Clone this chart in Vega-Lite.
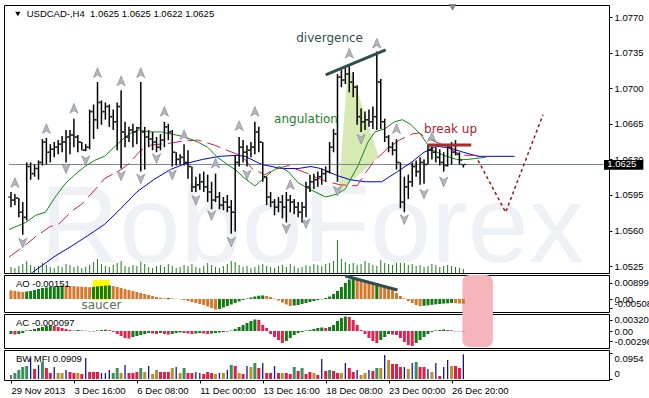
{
"$schema": "https://vega.github.io/schema/vega-lite/v6.json",
"background": "#ffffff",
"padding": {"left": 3, "top": 3, "right": 0, "bottom": 0},
"spacing": 2,
"bounds": "flush",
"resolve": {"scale": {"color": "independent", "shape": "independent"}},
"config": {
  "view": {"stroke": "#000000", "strokeWidth": 1},
  "axis": {"domain": false, "grid": false, "labelFont": "Liberation Sans", "labelFontSize": 9.5, "labelColor": "#000000", "tickColor": "#000000", "tickSize": 3, "labelPadding": 2, "labelOverlap": false, "labelFlush": false, "zindex": 0}
},
"datasets": {
"bars": [
{"i":0,"o":1.0593,"h":1.0598,"l":1.0583,"c":1.0590,"v":600,"ao":0.00468,"aoc":"o","ac":-0.00087,"acc":"g","mfi":0.0147,"mfic":"b"},
{"i":1,"o":1.0590,"h":1.0596,"l":1.0585,"c":1.0592,"v":500,"ao":0.0044,"aoc":"o","ac":-0.00102,"acc":"r","mfi":0.0221,"mfic":"g"},
{"i":2,"o":1.0592,"h":1.0592,"l":1.0573,"c":1.0578,"v":700,"ao":0.00413,"aoc":"o","ac":-0.00087,"acc":"g","mfi":0.0331,"mfic":"g"},
{"i":3,"o":1.0578,"h":1.0588,"l":1.0556,"c":1.0573,"v":900,"ao":0.00385,"aoc":"o","ac":-0.00058,"acc":"g","mfi":0.0442,"mfic":"g"},
{"i":4,"o":1.0573,"h":1.0627,"l":1.0570,"c":1.0623,"v":1200,"ao":0.00413,"aoc":"g","ac":0.00015,"acc":"g","mfi":0.0478,"mfic":"g"},
{"i":5,"o":1.0623,"h":1.0627,"l":1.0610,"c":1.0616,"v":800,"ao":0.0044,"aoc":"g","ac":0.00029,"acc":"g","mfi":0.0773,"mfic":"b"},
{"i":6,"o":1.0616,"h":1.0625,"l":1.0613,"c":1.0621,"v":600,"ao":0.00495,"aoc":"g","ac":0.00058,"acc":"g","mfi":0.0368,"mfic":"r"},
{"i":7,"o":1.0621,"h":1.0629,"l":1.0610,"c":1.0627,"v":700,"ao":0.0055,"aoc":"g","ac":0.00087,"acc":"g","mfi":0.0515,"mfic":"b"},
{"i":8,"o":1.0627,"h":1.0650,"l":1.0624,"c":1.0647,"v":1000,"ao":0.00605,"aoc":"g","ac":0.00116,"acc":"g","mfi":0.0626,"mfic":"g"},
{"i":9,"o":1.0647,"h":1.0651,"l":1.0625,"c":1.0637,"v":800,"ao":0.00633,"aoc":"g","ac":0.00145,"acc":"g","mfi":0.0405,"mfic":"r"},
{"i":10,"o":1.0637,"h":1.0645,"l":1.0627,"c":1.0640,"v":600,"ao":0.0066,"aoc":"g","ac":0.0016,"acc":"g","mfi":0.0221,"mfic":"r"},
{"i":11,"o":1.0640,"h":1.0647,"l":1.0632,"c":1.0642,"v":500,"ao":0.00688,"aoc":"g","ac":0.00145,"acc":"r","mfi":0.0442,"mfic":"b"},
{"i":12,"o":1.0642,"h":1.0649,"l":1.0635,"c":1.0645,"v":700,"ao":0.00715,"aoc":"g","ac":0.00116,"acc":"r","mfi":0.0221,"mfic":"f"},
{"i":13,"o":1.0645,"h":1.0653,"l":1.0637,"c":1.0647,"v":600,"ao":0.00743,"aoc":"g","ac":0.00087,"acc":"r","mfi":0.0221,"mfic":"f"},
{"i":14,"o":1.0647,"h":1.0659,"l":1.0627,"c":1.0652,"v":900,"ao":0.00732,"aoc":"o","ac":0.00058,"acc":"r","mfi":0.0331,"mfic":"b"},
{"i":15,"o":1.0652,"h":1.0659,"l":1.0635,"c":1.0654,"v":800,"ao":0.00715,"aoc":"o","ac":0.00029,"acc":"r","mfi":0.0258,"mfic":"r"},
{"i":16,"o":1.0654,"h":1.0670,"l":1.0642,"c":1.0652,"v":600,"ao":0.00704,"aoc":"o","ac":0.00015,"acc":"r","mfi":0.0221,"mfic":"r"},
{"i":17,"o":1.0652,"h":1.0654,"l":1.0637,"c":1.0647,"v":700,"ao":0.00688,"aoc":"o","ac":0.00029,"acc":"g","mfi":0.0221,"mfic":"f"},
{"i":18,"o":1.0647,"h":1.0647,"l":1.0639,"c":1.0639,"v":500,"ao":0.00677,"aoc":"o","ac":0.00015,"acc":"r","mfi":0.0184,"mfic":"r"},
{"i":19,"o":1.0639,"h":1.0645,"l":1.0638,"c":1.0642,"v":600,"ao":0.0066,"aoc":"o","ac":0.00009,"acc":"r","mfi":0.0773,"mfic":"b"},
{"i":20,"o":1.0642,"h":1.0679,"l":1.0640,"c":1.0677,"v":800,"ao":0.00649,"aoc":"o","ac":-0.00009,"acc":"r","mfi":0.0258,"mfic":"r"},
{"i":21,"o":1.0677,"h":1.0684,"l":1.0650,"c":1.0669,"v":1100,"ao":0.00671,"aoc":"g","ac":-0.00015,"acc":"r","mfi":0.0258,"mfic":"r"},
{"i":22,"o":1.0669,"h":1.0706,"l":1.0660,"c":1.0686,"v":1400,"ao":0.00693,"aoc":"g","ac":0.00015,"acc":"g","mfi":0.0258,"mfic":"r"},
{"i":23,"o":1.0686,"h":1.0688,"l":1.0664,"c":1.0677,"v":900,"ao":0.00715,"aoc":"g","ac":0.00029,"acc":"g","mfi":0.0221,"mfic":"b"},
{"i":24,"o":1.0677,"h":1.0686,"l":1.0669,"c":1.0682,"v":700,"ao":0.00732,"aoc":"g","ac":0.00038,"acc":"g","mfi":0.0221,"mfic":"b"},
{"i":25,"o":1.0682,"h":1.0684,"l":1.0662,"c":1.0672,"v":600,"ao":0.00748,"aoc":"g","ac":0.00023,"acc":"r","mfi":0.0331,"mfic":"b"},
{"i":26,"o":1.0672,"h":1.0679,"l":1.0659,"c":1.0667,"v":800,"ao":0.00715,"aoc":"o","ac":-0.00029,"acc":"r","mfi":0.0221,"mfic":"g"},
{"i":27,"o":1.0667,"h":1.0686,"l":1.0639,"c":1.0682,"v":1000,"ao":0.0066,"aoc":"o","ac":-0.00087,"acc":"r","mfi":0.0405,"mfic":"g"},
{"i":28,"o":1.0682,"h":1.0698,"l":1.0621,"c":1.0657,"v":1200,"ao":0.00605,"aoc":"o","ac":-0.00145,"acc":"r","mfi":0.0221,"mfic":"f"},
{"i":29,"o":1.0657,"h":1.0667,"l":1.0642,"c":1.0652,"v":700,"ao":0.0055,"aoc":"o","ac":-0.00203,"acc":"r","mfi":0.0515,"mfic":"b"},
{"i":30,"o":1.0652,"h":1.0662,"l":1.0647,"c":1.0659,"v":600,"ao":0.00495,"aoc":"o","ac":-0.00218,"acc":"r","mfi":0.0221,"mfic":"r"},
{"i":31,"o":1.0659,"h":1.0665,"l":1.0642,"c":1.0657,"v":800,"ao":0.0044,"aoc":"o","ac":-0.00174,"acc":"g","mfi":0.0221,"mfic":"r"},
{"i":32,"o":1.0657,"h":1.0662,"l":1.0645,"c":1.0661,"v":700,"ao":0.00385,"aoc":"o","ac":-0.00145,"acc":"g","mfi":0.0258,"mfic":"r"},
{"i":33,"o":1.0661,"h":1.0706,"l":1.0618,"c":1.0657,"v":1700,"ao":0.0033,"aoc":"o","ac":-0.00116,"acc":"g","mfi":0.0405,"mfic":"g"},
{"i":34,"o":1.0657,"h":1.0662,"l":1.0620,"c":1.0652,"v":900,"ao":0.00275,"aoc":"o","ac":-0.00087,"acc":"g","mfi":0.0258,"mfic":"f"},
{"i":35,"o":1.0652,"h":1.0659,"l":1.0642,"c":1.0650,"v":600,"ao":0.0022,"aoc":"o","ac":-0.00058,"acc":"g","mfi":0.0478,"mfic":"b"},
{"i":36,"o":1.0650,"h":1.0657,"l":1.0639,"c":1.0647,"v":500,"ao":0.00165,"aoc":"o","ac":-0.00073,"acc":"r","mfi":0.0184,"mfic":"f"},
{"i":37,"o":1.0647,"h":1.0652,"l":1.0637,"c":1.0642,"v":700,"ao":0.0011,"aoc":"o","ac":-0.00087,"acc":"r","mfi":0.0331,"mfic":"f"},
{"i":38,"o":1.0642,"h":1.0655,"l":1.0639,"c":1.0649,"v":800,"ao":0.00072,"aoc":"o","ac":-0.00058,"acc":"g","mfi":0.0258,"mfic":"r"},
{"i":39,"o":1.0649,"h":1.0667,"l":1.0642,"c":1.0662,"v":600,"ao":0.00044,"aoc":"o","ac":-0.00087,"acc":"r","mfi":0.0258,"mfic":"r"},
{"i":40,"o":1.0662,"h":1.0665,"l":1.0649,"c":1.0657,"v":900,"ao":0.00055,"aoc":"g","ac":-0.00102,"acc":"r","mfi":0.0258,"mfic":"r"},
{"i":41,"o":1.0657,"h":1.0659,"l":1.0623,"c":1.0637,"v":700,"ao":0.00033,"aoc":"o","ac":-0.00087,"acc":"g","mfi":0.0405,"mfic":"f"},
{"i":42,"o":1.0637,"h":1.0637,"l":1.0624,"c":1.0630,"v":500,"ao":0.00017,"aoc":"o","ac":-0.00058,"acc":"g","mfi":0.0442,"mfic":"b"},
{"i":43,"o":1.0630,"h":1.0635,"l":1.0625,"c":1.0632,"v":600,"ao":-0.00017,"aoc":"o","ac":-0.00044,"acc":"g","mfi":0.0221,"mfic":"f"},
{"i":44,"o":1.0632,"h":1.0645,"l":1.0624,"c":1.0627,"v":800,"ao":-0.00055,"aoc":"o","ac":-0.00058,"acc":"r","mfi":0.0405,"mfic":"g"},
{"i":45,"o":1.0627,"h":1.0639,"l":1.0611,"c":1.0623,"v":700,"ao":-0.0011,"aoc":"o","ac":-0.00073,"acc":"r","mfi":0.0221,"mfic":"r"},
{"i":46,"o":1.0623,"h":1.0623,"l":1.0598,"c":1.0603,"v":900,"ao":-0.00165,"aoc":"o","ac":-0.00087,"acc":"r","mfi":0.0221,"mfic":"r"},
{"i":47,"o":1.0603,"h":1.0613,"l":1.0598,"c":1.0605,"v":600,"ao":-0.0022,"aoc":"o","ac":-0.00073,"acc":"g","mfi":0.0258,"mfic":"b"},
{"i":48,"o":1.0605,"h":1.0616,"l":1.0600,"c":1.0608,"v":500,"ao":-0.00275,"aoc":"o","ac":-0.00058,"acc":"g","mfi":0.0221,"mfic":"b"},
{"i":49,"o":1.0608,"h":1.0618,"l":1.0598,"c":1.0603,"v":700,"ao":-0.0033,"aoc":"o","ac":-0.00073,"acc":"r","mfi":0.0184,"mfic":"r"},
{"i":50,"o":1.0603,"h":1.0615,"l":1.0588,"c":1.0598,"v":1000,"ao":-0.00413,"aoc":"o","ac":-0.00087,"acc":"r","mfi":0.0258,"mfic":"r"},
{"i":51,"o":1.0598,"h":1.0608,"l":1.0581,"c":1.0590,"v":800,"ao":-0.00495,"aoc":"o","ac":-0.00073,"acc":"g","mfi":0.0221,"mfic":"r"},
{"i":52,"o":1.0590,"h":1.0616,"l":1.0588,"c":1.0593,"v":600,"ao":-0.00578,"aoc":"o","ac":-0.00058,"acc":"g","mfi":0.0184,"mfic":"f"},
{"i":53,"o":1.0593,"h":1.0598,"l":1.0581,"c":1.0585,"v":500,"ao":-0.0055,"aoc":"g","ac":-0.00044,"acc":"g","mfi":0.0221,"mfic":"b"},
{"i":54,"o":1.0585,"h":1.0593,"l":1.0580,"c":1.0588,"v":700,"ao":-0.00468,"aoc":"g","ac":-0.00029,"acc":"g","mfi":0.0221,"mfic":"f"},
{"i":55,"o":1.0588,"h":1.0595,"l":1.0578,"c":1.0583,"v":900,"ao":-0.00385,"aoc":"g","ac":-0.00015,"acc":"g","mfi":0.0331,"mfic":"b"},
{"i":56,"o":1.0583,"h":1.0590,"l":1.0557,"c":1.0578,"v":1200,"ao":-0.00303,"aoc":"g","ac":0.00015,"acc":"g","mfi":0.0515,"mfic":"g"},
{"i":57,"o":1.0578,"h":1.0634,"l":1.0559,"c":1.0627,"v":1100,"ao":-0.0022,"aoc":"g","ac":0.00058,"acc":"g","mfi":0.0478,"mfic":"r"},
{"i":58,"o":1.0627,"h":1.0652,"l":1.0623,"c":1.0642,"v":800,"ao":-0.00138,"aoc":"g","ac":0.00116,"acc":"g","mfi":0.0221,"mfic":"f"},
{"i":59,"o":1.0642,"h":1.0649,"l":1.0627,"c":1.0637,"v":600,"ao":-0.00055,"aoc":"g","ac":0.00174,"acc":"g","mfi":0.0184,"mfic":"r"},
{"i":60,"o":1.0637,"h":1.0644,"l":1.0623,"c":1.0639,"v":700,"ao":0.00028,"aoc":"g","ac":0.00232,"acc":"g","mfi":0.0478,"mfic":"b"},
{"i":61,"o":1.0639,"h":1.0647,"l":1.0632,"c":1.0642,"v":500,"ao":0.00083,"aoc":"g","ac":0.0029,"acc":"g","mfi":0.0442,"mfic":"f"},
{"i":62,"o":1.0642,"h":1.0667,"l":1.0635,"c":1.0657,"v":600,"ao":0.00138,"aoc":"g","ac":0.00334,"acc":"g","mfi":0.0589,"mfic":"g"},
{"i":63,"o":1.0657,"h":1.0662,"l":1.0637,"c":1.0647,"v":800,"ao":0.00176,"aoc":"g","ac":0.00319,"acc":"r","mfi":0.0405,"mfic":"r"},
{"i":64,"o":1.0647,"h":1.0647,"l":1.0608,"c":1.0613,"v":900,"ao":0.00198,"aoc":"g","ac":0.00174,"acc":"r","mfi":0.0589,"mfic":"b"},
{"i":65,"o":1.0613,"h":1.0613,"l":1.0585,"c":1.0593,"v":700,"ao":0.00165,"aoc":"o","ac":0.00087,"acc":"r","mfi":0.0221,"mfic":"r"},
{"i":66,"o":1.0593,"h":1.0598,"l":1.0583,"c":1.0588,"v":600,"ao":0.0011,"aoc":"o","ac":-0.00087,"acc":"r","mfi":0.0221,"mfic":"r"},
{"i":67,"o":1.0588,"h":1.0591,"l":1.0575,"c":1.0583,"v":500,"ao":0.00028,"aoc":"o","ac":-0.00174,"acc":"r","mfi":0.0478,"mfic":"b"},
{"i":68,"o":1.0583,"h":1.0593,"l":1.0578,"c":1.0588,"v":700,"ao":-0.00083,"aoc":"o","ac":-0.00261,"acc":"r","mfi":0.0221,"mfic":"r"},
{"i":69,"o":1.0588,"h":1.0595,"l":1.0572,"c":1.0583,"v":800,"ao":-0.00193,"aoc":"o","ac":-0.00348,"acc":"r","mfi":0.0221,"mfic":"f"},
{"i":70,"o":1.0583,"h":1.0598,"l":1.0568,"c":1.0590,"v":600,"ao":-0.00303,"aoc":"o","ac":-0.0029,"acc":"g","mfi":0.0221,"mfic":"r"},
{"i":71,"o":1.0590,"h":1.0595,"l":1.0578,"c":1.0588,"v":900,"ao":-0.00385,"aoc":"o","ac":-0.00203,"acc":"g","mfi":0.0184,"mfic":"r"},
{"i":72,"o":1.0588,"h":1.0591,"l":1.0576,"c":1.0583,"v":700,"ao":-0.00358,"aoc":"g","ac":-0.00116,"acc":"g","mfi":0.0442,"mfic":"g"},
{"i":73,"o":1.0583,"h":1.0588,"l":1.0573,"c":1.0578,"v":500,"ao":-0.0033,"aoc":"g","ac":-0.00058,"acc":"g","mfi":0.0294,"mfic":"r"},
{"i":74,"o":1.0578,"h":1.0588,"l":1.0568,"c":1.0583,"v":600,"ao":-0.00275,"aoc":"g","ac":-0.00029,"acc":"g","mfi":0.0405,"mfic":"g"},
{"i":75,"o":1.0583,"h":1.0608,"l":1.0573,"c":1.0603,"v":800,"ao":-0.0022,"aoc":"g","ac":0.00015,"acc":"g","mfi":0.0184,"mfic":"r"},
{"i":76,"o":1.0603,"h":1.0615,"l":1.0598,"c":1.0608,"v":700,"ao":-0.00165,"aoc":"g","ac":0.00029,"acc":"g","mfi":0.0258,"mfic":"r"},
{"i":77,"o":1.0608,"h":1.0616,"l":1.0601,"c":1.0610,"v":900,"ao":-0.0011,"aoc":"g","ac":0.00058,"acc":"g","mfi":0.0221,"mfic":"f"},
{"i":78,"o":1.0610,"h":1.0618,"l":1.0603,"c":1.0613,"v":800,"ao":-0.00055,"aoc":"g","ac":0.00087,"acc":"g","mfi":0.0147,"mfic":"r"},
{"i":79,"o":1.0613,"h":1.0621,"l":1.0605,"c":1.0616,"v":700,"ao":-0.00017,"aoc":"g","ac":0.00102,"acc":"g","mfi":0.0736,"mfic":"b"},
{"i":80,"o":1.0616,"h":1.0623,"l":1.0608,"c":1.0618,"v":900,"ao":0.00055,"aoc":"g","ac":0.00087,"acc":"r","mfi":0.0294,"mfic":"r"},
{"i":81,"o":1.0618,"h":1.0647,"l":1.0616,"c":1.0642,"v":1000,"ao":0.00138,"aoc":"g","ac":0.00116,"acc":"g","mfi":0.0331,"mfic":"g"},
{"i":82,"o":1.0642,"h":1.0660,"l":1.0637,"c":1.0655,"v":1200,"ao":0.00275,"aoc":"g","ac":0.00174,"acc":"g","mfi":0.0294,"mfic":"r"},
{"i":83,"o":1.0655,"h":1.0714,"l":1.0608,"c":1.0711,"v":3300,"ao":0.0044,"aoc":"g","ac":0.0029,"acc":"g","mfi":0.0221,"mfic":"r"},
{"i":84,"o":1.0711,"h":1.0718,"l":1.0701,"c":1.0708,"v":1400,"ao":0.0066,"aoc":"g","ac":0.00377,"acc":"g","mfi":0.0221,"mfic":"f"},
{"i":85,"o":1.0708,"h":1.0720,"l":1.0704,"c":1.0714,"v":1100,"ao":0.0088,"aoc":"g","ac":0.00421,"acc":"g","mfi":0.0589,"mfic":"b"},
{"i":86,"o":1.0714,"h":1.0723,"l":1.0696,"c":1.0706,"v":900,"ao":0.01073,"aoc":"g","ac":0.00406,"acc":"r","mfi":0.0405,"mfic":"r"},
{"i":87,"o":1.0706,"h":1.0716,"l":1.0691,"c":1.0701,"v":1000,"ao":0.0121,"aoc":"g","ac":0.00319,"acc":"r","mfi":0.0258,"mfic":"r"},
{"i":88,"o":1.0701,"h":1.0703,"l":1.0664,"c":1.0672,"v":800,"ao":0.01155,"aoc":"o","ac":0.00174,"acc":"r","mfi":0.0331,"mfic":"b"},
{"i":89,"o":1.0672,"h":1.0680,"l":1.0657,"c":1.0667,"v":900,"ao":0.01073,"aoc":"o","ac":0.00029,"acc":"r","mfi":0.0147,"mfic":"f"},
{"i":90,"o":1.0667,"h":1.0677,"l":1.0659,"c":1.0669,"v":1200,"ao":0.0099,"aoc":"o","ac":-0.00087,"acc":"r","mfi":0.0221,"mfic":"f"},
{"i":91,"o":1.0669,"h":1.0679,"l":1.0662,"c":1.0667,"v":1000,"ao":0.00908,"aoc":"o","ac":-0.00203,"acc":"r","mfi":0.0331,"mfic":"b"},
{"i":92,"o":1.0667,"h":1.0682,"l":1.0660,"c":1.0672,"v":800,"ao":0.00853,"aoc":"o","ac":-0.0029,"acc":"r","mfi":0.0294,"mfic":"r"},
{"i":93,"o":1.0672,"h":1.0736,"l":1.0659,"c":1.0706,"v":700,"ao":0.0088,"aoc":"g","ac":-0.00348,"acc":"r","mfi":0.0405,"mfic":"g"},
{"i":94,"o":1.0706,"h":1.0709,"l":1.0660,"c":1.0667,"v":1300,"ao":0.0077,"aoc":"o","ac":-0.00261,"acc":"g","mfi":0.0405,"mfic":"f"},
{"i":95,"o":1.0667,"h":1.0670,"l":1.0647,"c":1.0652,"v":1000,"ao":0.00688,"aoc":"o","ac":-0.00174,"acc":"g","mfi":0.0883,"mfic":"b"},
{"i":96,"o":1.0652,"h":1.0654,"l":1.0637,"c":1.0642,"v":900,"ao":0.00605,"aoc":"o","ac":-0.00087,"acc":"g","mfi":0.0699,"mfic":"f"},
{"i":97,"o":1.0642,"h":1.0647,"l":1.0634,"c":1.0639,"v":800,"ao":0.00495,"aoc":"o","ac":-0.00102,"acc":"r","mfi":0.0552,"mfic":"r"},
{"i":98,"o":1.0639,"h":1.0650,"l":1.0620,"c":1.0627,"v":1200,"ao":0.0033,"aoc":"o","ac":-0.00116,"acc":"r","mfi":0.0552,"mfic":"r"},
{"i":99,"o":1.0627,"h":1.0627,"l":1.0582,"c":1.0588,"v":1400,"ao":0.00165,"aoc":"o","ac":-0.00203,"acc":"r","mfi":0.0442,"mfic":"r"},
{"i":100,"o":1.0588,"h":1.0613,"l":1.0578,"c":1.0603,"v":1000,"ao":0.00028,"aoc":"o","ac":-0.00319,"acc":"r","mfi":0.0442,"mfic":"b"},
{"i":101,"o":1.0603,"h":1.0615,"l":1.0591,"c":1.0608,"v":800,"ao":-0.0011,"aoc":"o","ac":-0.00406,"acc":"r","mfi":0.0368,"mfic":"f"},
{"i":102,"o":1.0608,"h":1.0627,"l":1.0603,"c":1.0623,"v":900,"ao":-0.0022,"aoc":"o","ac":-0.00435,"acc":"r","mfi":0.0589,"mfic":"b"},
{"i":103,"o":1.0623,"h":1.0629,"l":1.0613,"c":1.0618,"v":700,"ao":-0.0033,"aoc":"o","ac":-0.00348,"acc":"g","mfi":0.0626,"mfic":"g"},
{"i":104,"o":1.0618,"h":1.0632,"l":1.0605,"c":1.0627,"v":800,"ao":-0.00396,"aoc":"o","ac":-0.00261,"acc":"g","mfi":0.0442,"mfic":"r"},
{"i":105,"o":1.0627,"h":1.0630,"l":1.0606,"c":1.0625,"v":600,"ao":-0.00374,"aoc":"g","ac":-0.00174,"acc":"g","mfi":0.0442,"mfic":"r"},
{"i":106,"o":1.0625,"h":1.0644,"l":1.0625,"c":1.0639,"v":700,"ao":-0.00347,"aoc":"g","ac":-0.00087,"acc":"g","mfi":0.0368,"mfic":"b"},
{"i":107,"o":1.0639,"h":1.0645,"l":1.0630,"c":1.0637,"v":900,"ao":-0.00319,"aoc":"g","ac":-0.00029,"acc":"g","mfi":0.0258,"mfic":"f"},
{"i":108,"o":1.0637,"h":1.0642,"l":1.0627,"c":1.0632,"v":800,"ao":-0.00292,"aoc":"g","ac":0.00015,"acc":"g","mfi":0.0589,"mfic":"b"},
{"i":109,"o":1.0632,"h":1.0640,"l":1.0624,"c":1.0627,"v":600,"ao":-0.00275,"aoc":"g","ac":0.00029,"acc":"g","mfi":0.011,"mfic":"r"},
{"i":110,"o":1.0627,"h":1.0637,"l":1.0618,"c":1.0624,"v":700,"ao":-0.00253,"aoc":"g","ac":0.00044,"acc":"g","mfi":0.0442,"mfic":"b"},
{"i":111,"o":1.0624,"h":1.0645,"l":1.0623,"c":1.0642,"v":800,"ao":-0.00237,"aoc":"g","ac":0.00029,"acc":"r","mfi":0.0699,"mfic":"b"},
{"i":112,"o":1.0642,"h":1.0647,"l":1.0625,"c":1.0637,"v":700,"ao":-0.0022,"aoc":"g","ac":0.0002,"acc":"r","mfi":0.0478,"mfic":"f"},
{"i":113,"o":1.0637,"h":1.0649,"l":1.0634,"c":1.0635,"v":600,"ao":-0.00231,"aoc":"o","ac":-0.0001,"acc":"r","mfi":0.0478,"mfic":"r"},
{"i":114,"o":1.0635,"h":1.0637,"l":1.0625,"c":1.0629,"v":500,"ao":-0.00248,"aoc":"o","ac":-0.0001,"acc":"r","mfi":0.0405,"mfic":"r"},
{"i":115,"o":1.0625,"h":1.0625,"l":1.0622,"c":1.0625,"v":400,"ao":-0.00259,"aoc":"o","ac":-0.000097,"acc":"r","mfi":0.0909,"mfic":"b"}
],
"alli": [
{"line":"jaw","i":3.75,"p":1.0513},{"line":"jaw","i":5.5,"p":1.0519},{"line":"jaw","i":11.25,"p":1.0535},{"line":"jaw","i":15.5,"p":1.0545},{"line":"jaw","i":19.5,"p":1.0555},{"line":"jaw","i":23.75,"p":1.0566},{"line":"jaw","i":28,"p":1.0582},{"line":"jaw","i":32,"p":1.0598},{"line":"jaw","i":36.25,"p":1.0610},{"line":"jaw","i":40.5,"p":1.0620},{"line":"jaw","i":44.5,"p":1.0626},{"line":"jaw","i":48.75,"p":1.0630},{"line":"jaw","i":53,"p":1.0633},{"line":"jaw","i":57.5,"p":1.0634},{"line":"jaw","i":59.5,"p":1.0633},{"line":"jaw","i":63.75,"p":1.0625},{"line":"jaw","i":68.75,"p":1.0621},{"line":"jaw","i":73,"p":1.0621},{"line":"jaw","i":76.25,"p":1.0623},{"line":"jaw","i":78.75,"p":1.0621},{"line":"jaw","i":83,"p":1.0614},{"line":"jaw","i":86.25,"p":1.0610},{"line":"jaw","i":90,"p":1.0608},{"line":"jaw","i":94.25,"p":1.0608},{"line":"jaw","i":98.25,"p":1.0618},{"line":"jaw","i":101.75,"p":1.0627},{"line":"jaw","i":105,"p":1.0637},{"line":"jaw","i":108.25,"p":1.0643},{"line":"jaw","i":111.75,"p":1.0641},{"line":"jaw","i":115,"p":1.0637},{"line":"jaw","i":118.75,"p":1.0633},{"line":"jaw","i":123,"p":1.0633},{"line":"jaw","i":128,"p":1.0633},
{"line":"teeth","i":-0.5,"p":1.0534},{"line":"teeth","i":3.75,"p":1.0546},{"line":"teeth","i":6.25,"p":1.0554},{"line":"teeth","i":10,"p":1.0564},{"line":"teeth","i":12,"p":1.0566},{"line":"teeth","i":15.75,"p":1.0580},{"line":"teeth","i":18,"p":1.0586},{"line":"teeth","i":22,"p":1.0603},{"line":"teeth","i":23.75,"p":1.0611},{"line":"teeth","i":28,"p":1.0620},{"line":"teeth","i":30,"p":1.0626},{"line":"teeth","i":33,"p":1.0639},{"line":"teeth","i":35.5,"p":1.0644},{"line":"teeth","i":40.5,"p":1.0646},{"line":"teeth","i":43.75,"p":1.0648},{"line":"teeth","i":47.5,"p":1.0649},{"line":"teeth","i":51.75,"p":1.0644},{"line":"teeth","i":54.25,"p":1.0640},{"line":"teeth","i":57.5,"p":1.0635},{"line":"teeth","i":59.5,"p":1.0630},{"line":"teeth","i":61.25,"p":1.0621},{"line":"teeth","i":64.5,"p":1.0615},{"line":"teeth","i":67,"p":1.0620},{"line":"teeth","i":70.5,"p":1.0624},{"line":"teeth","i":72,"p":1.0621},{"line":"teeth","i":75.5,"p":1.0616},{"line":"teeth","i":77,"p":1.0613},{"line":"teeth","i":80.5,"p":1.0608},{"line":"teeth","i":83.75,"p":1.0605},{"line":"teeth","i":88,"p":1.0604},{"line":"teeth","i":90,"p":1.0616},{"line":"teeth","i":92,"p":1.0627},{"line":"teeth","i":95.5,"p":1.0640},{"line":"teeth","i":98.75,"p":1.0649},{"line":"teeth","i":102,"p":1.0655},{"line":"teeth","i":103.75,"p":1.0656},{"line":"teeth","i":105.75,"p":1.0651},{"line":"teeth","i":110,"p":1.0644},{"line":"teeth","i":114.5,"p":1.0634},{"line":"teeth","i":118,"p":1.0634},{"line":"teeth","i":120.75,"p":1.0632},
{"line":"lips","i":-0.5,"p":1.0561},{"line":"lips","i":3.75,"p":1.0568},{"line":"lips","i":6.25,"p":1.0575},{"line":"lips","i":8.75,"p":1.0578},{"line":"lips","i":11.25,"p":1.0593},{"line":"lips","i":13.75,"p":1.0606},{"line":"lips","i":16.25,"p":1.0615},{"line":"lips","i":18.75,"p":1.0623},{"line":"lips","i":21.25,"p":1.0629},{"line":"lips","i":23.75,"p":1.0633},{"line":"lips","i":26.25,"p":1.0642},{"line":"lips","i":28.75,"p":1.0651},{"line":"lips","i":30.5,"p":1.0656},{"line":"lips","i":32.5,"p":1.0659},{"line":"lips","i":35,"p":1.0657},{"line":"lips","i":38.25,"p":1.0657},{"line":"lips","i":40.75,"p":1.0655},{"line":"lips","i":44.25,"p":1.0652},{"line":"lips","i":47.5,"p":1.0647},{"line":"lips","i":50,"p":1.0642},{"line":"lips","i":52.5,"p":1.0632},{"line":"lips","i":55,"p":1.0625},{"line":"lips","i":57,"p":1.0620},{"line":"lips","i":59.5,"p":1.0611},{"line":"lips","i":62,"p":1.0604},{"line":"lips","i":64.5,"p":1.0612},{"line":"lips","i":66.25,"p":1.0618},{"line":"lips","i":68.25,"p":1.0623},{"line":"lips","i":70.5,"p":1.0618},{"line":"lips","i":73,"p":1.0607},{"line":"lips","i":76.25,"p":1.0600},{"line":"lips","i":80,"p":1.0593},{"line":"lips","i":83,"p":1.0596},{"line":"lips","i":85,"p":1.0601},{"line":"lips","i":88.25,"p":1.0624},{"line":"lips","i":90.75,"p":1.0647},{"line":"lips","i":92.5,"p":1.0657},{"line":"lips","i":95,"p":1.0660},{"line":"lips","i":97.5,"p":1.0667},{"line":"lips","i":99.5,"p":1.0669},{"line":"lips","i":101.75,"p":1.0664},{"line":"lips","i":104.25,"p":1.0654},{"line":"lips","i":106.75,"p":1.0640},{"line":"lips","i":110,"p":1.0634},{"line":"lips","i":113.25,"p":1.0630},{"line":"lips","i":116.25,"p":1.0630},{"line":"lips","i":120.5,"p":1.0632}
],
"fr": [
{"t":"u","i":1,"p":1.0607},{"t":"u","i":9,"p":1.0660},{"t":"u","i":16,"p":1.0680},{"t":"u","i":22,"p":1.0715},{"t":"u","i":28,"p":1.0707},{"t":"u","i":33,"p":1.0715},{"t":"u","i":39,"p":1.0677},{"t":"u","i":44,"p":1.0654},{"t":"u","i":52,"p":1.0626},{"t":"u","i":58,"p":1.0663},{"t":"u","i":62,"p":1.0677},{"t":"u","i":71,"p":1.0605},{"t":"u","i":86,"p":1.0734},{"t":"u","i":93,"p":1.0744},{"t":"u","i":98,"p":1.0660},{"t":"u","i":107,"p":1.0652},
{"t":"d","i":3,"p":1.0548},{"t":"d","i":14,"p":1.0621},{"t":"d","i":19,"p":1.0629},{"t":"d","i":28,"p":1.0614},{"t":"d","i":33,"p":1.0611},{"t":"d","i":37,"p":1.0631},{"t":"d","i":41,"p":1.0615},{"t":"d","i":47,"p":1.0590},{"t":"d","i":51,"p":1.0575},{"t":"d","i":56,"p":1.0549},{"t":"d","i":60,"p":1.0615},{"t":"d","i":70,"p":1.0562},{"t":"d","i":75,"p":1.0567},{"t":"d","i":83,"p":1.0599},{"t":"d","i":89,"p":1.0650},{"t":"d","i":100,"p":1.0571},{"t":"d","i":105,"p":1.0596},{"t":"d","i":110,"p":1.0608}
]
},
"vconcat": [
{
 "width": 605, "height": 268,
 "encoding": {"x": {"field": "i", "type": "quantitative", "scale": {"domain": [-0.5, 150.75], "nice": false, "zero": false}, "axis": null}},
 "resolve": {"scale": {"y": "independent"}, "axis": {"y": "independent"}},
 "layer": [
  {"data": {"name": "bars"}, "mark": {"type": "bar", "orient": "vertical", "width": 1, "color": "#1d7d1d"},
   "encoding": {"y": {"field": "v", "type": "quantitative", "scale": {"domain": [0, 26800], "nice": false}, "axis": null}, "y2": {"datum": 0}}},
  {"resolve": {"axis": {"y": "independent"}},
   "layer": [
   {"data": {"values": [{"i": 76.5, "p": 1.0529, "t": "RoboForex"}]},
    "mark": {"type": "text", "font": "Liberation Sans", "fontSize": 110, "color": "#eef2f6", "align": "center", "baseline": "alphabetic"},
    "encoding": {"y": {"field": "p", "type": "quantitative", "scale": {"domain": [1.05183, 1.07818], "nice": false, "zero": false}, "axis": null}, "text": {"field": "t", "type": "nominal"}}},
   {"data": {"values": [{"i": 83.25, "t": 1.0598, "b": 1.0598}, {"i": 85.75, "t": 1.0724, "b": 1.0606}, {"i": 93.5, "t": 1.0632, "b": 1.0632}]},
    "mark": {"type": "area", "color": "#d7eab3", "opacity": 1},
    "encoding": {"y": {"field": "t", "type": "quantitative", "scale": {"domain": [1.05183, 1.07818], "nice": false, "zero": false}, "axis": null}, "y2": {"field": "b"}}},
   {"data": {"values": [{"i": -0.5, "i2": 150.75, "p": 1.0625}]},
    "mark": {"type": "rule", "color": "#7c8791", "strokeWidth": 1},
    "encoding": {"x2": {"field": "i2"}, "y": {"field": "p", "type": "quantitative", "scale": {"domain": [1.05183, 1.07818], "nice": false, "zero": false}, "axis": null}}},
   {"data": {"name": "alli"}, "transform": [{"filter": "datum.line == 'jaw'"}],
    "mark": {"type": "line", "color": "#0000dd", "strokeWidth": 1, "clip": true},
    "encoding": {"y": {"field": "p", "type": "quantitative", "scale": {"domain": [1.05183, 1.07818], "nice": false, "zero": false}, "axis": null}}},
   {"data": {"name": "alli"}, "transform": [{"filter": "datum.line == 'teeth'"}],
    "mark": {"type": "line", "color": "#cc1f4a", "strokeWidth": 1, "strokeDash": [14, 6], "clip": true},
    "encoding": {"y": {"field": "p", "type": "quantitative", "scale": {"domain": [1.05183, 1.07818], "nice": false, "zero": false}, "axis": null}}},
   {"data": {"name": "alli"}, "transform": [{"filter": "datum.line == 'lips'"}],
    "mark": {"type": "line", "color": "#118811", "strokeWidth": 1, "clip": true},
    "encoding": {"y": {"field": "p", "type": "quantitative", "scale": {"domain": [1.05183, 1.07818], "nice": false, "zero": false}, "axis": null}}},
   {"data": {"name": "bars"}, "mark": {"type": "rule", "color": "#000000", "strokeWidth": 1.5},
    "encoding": {"y": {"field": "l", "type": "quantitative", "scale": {"domain": [1.05183, 1.07818], "nice": false, "zero": false},
       "axis": {"orient": "right", "values": [1.077, 1.0735, 1.07, 1.0665, 1.063, 1.0595, 1.056, 1.0525], "format": ".4f", "title": null, "zindex": 0}},
     "y2": {"field": "h"}}},
   {"data": {"name": "bars"}, "mark": {"type": "tick", "orient": "horizontal", "color": "#000000", "size": 2, "thickness": 1.5, "xOffset": -1.75},
    "encoding": {"y": {"field": "o", "type": "quantitative", "scale": {"domain": [1.05183, 1.07818], "nice": false, "zero": false}, "axis": null}}},
   {"data": {"name": "bars"}, "mark": {"type": "tick", "orient": "horizontal", "color": "#000000", "size": 2, "thickness": 1.5, "xOffset": 1.75},
    "encoding": {"y": {"field": "c", "type": "quantitative", "scale": {"domain": [1.05183, 1.07818], "nice": false, "zero": false}, "axis": null}}},
   {"data": {"name": "fr"}, "mark": {"type": "point", "filled": true, "size": 105, "fill": "#b3b7bd", "stroke": "#7b8086", "strokeWidth": 0.6, "opacity": 1},
    "encoding": {"y": {"field": "p", "type": "quantitative", "scale": {"domain": [1.05183, 1.07818], "nice": false, "zero": false}, "axis": null},
     "shape": {"field": "t", "type": "nominal", "scale": {"domain": ["u", "d"], "range": ["M0,-1L0.8,0.9L0,0.4L-0.8,0.9Z", "M0,1L0.8,-0.9L0,-0.4L-0.8,-0.9Z"]}, "legend": null}}},
   {"data": {"values": [{"i": 80, "i2": 95.25, "p": 1.0713, "p2": 1.07376}]},
    "mark": {"type": "rule", "color": "#2f4f4f", "strokeWidth": 3},
    "encoding": {"x2": {"field": "i2"}, "y": {"field": "p", "type": "quantitative", "scale": {"domain": [1.05183, 1.07818], "nice": false, "zero": false}, "axis": null}, "y2": {"field": "p2"}}},
   {"data": {"values": [{"i": 106, "i2": 117, "p": 1.06441}]},
    "mark": {"type": "rule", "color": "#aa2b2b", "strokeWidth": 3},
    "encoding": {"x2": {"field": "i2"}, "y": {"field": "p", "type": "quantitative", "scale": {"domain": [1.05183, 1.07818], "nice": false, "zero": false}, "axis": null}}},
   {"data": {"values": [{"i": 118.75, "p": 1.0629}, {"i": 125.75, "p": 1.0578}, {"i": 135.25, "p": 1.0674}]},
    "mark": {"type": "line", "color": "#8b1a1a", "strokeWidth": 1.5, "strokeDash": [3, 3]},
    "encoding": {"y": {"field": "p", "type": "quantitative", "scale": {"domain": [1.05183, 1.07818], "nice": false, "zero": false}, "axis": null}}},
   {"data": {"values": [{"i": 81, "p": 1.0749, "t": "divergence", "k": "a"}, {"i": 75, "p": 1.0670, "t": "angulation", "k": "b"}, {"i": 111.75, "p": 1.0660, "t": "break up", "k": "c"}]},
    "mark": {"type": "text", "font": "DejaVu Sans", "fontSize": 12, "align": "center", "baseline": "middle"},
    "encoding": {"y": {"field": "p", "type": "quantitative", "scale": {"domain": [1.05183, 1.07818], "nice": false, "zero": false}, "axis": null},
     "text": {"field": "t", "type": "nominal"},
     "color": {"field": "k", "type": "nominal", "scale": {"domain": ["a", "b", "c"], "range": ["#2f4f4f", "#22802a", "#a3262e"]}, "legend": null}}},
   {"data": {"values": [{"i": 4, "p": 1.0773, "t": "USDCAD-,H4\u00a0 1.0625 1.0625 1.0622 1.0625"}]},
    "mark": {"type": "text", "font": "Liberation Sans", "fontSize": 9.5, "align": "left", "baseline": "middle", "color": "#000000"},
    "encoding": {"y": {"field": "p", "type": "quantitative", "scale": {"domain": [1.05183, 1.07818], "nice": false, "zero": false}, "axis": null}, "text": {"field": "t", "type": "nominal"}}},
   {"data": {"values": [{"i": 1.75, "p": 1.0773}]},
    "mark": {"type": "point", "shape": "triangle-down", "filled": true, "size": 28, "color": "#000000", "opacity": 1},
    "encoding": {"y": {"field": "p", "type": "quantitative", "scale": {"domain": [1.05183, 1.07818], "nice": false, "zero": false}, "axis": null}}},
   {"data": {"values": [{"i": 112.25, "p": 1.07795}]},
    "mark": {"type": "point", "shape": "triangle-down", "filled": true, "size": 60, "color": "#7d8792", "opacity": 1},
    "encoding": {"y": {"field": "p", "type": "quantitative", "scale": {"domain": [1.05183, 1.07818], "nice": false, "zero": false}, "axis": null}}},
   {"data": {"values": [{"i": 150.75, "i2": 160.75, "p": 1.06295, "p2": 1.06197}]},
    "mark": {"type": "rect", "color": "#000000"},
    "encoding": {"x2": {"field": "i2"}, "y": {"field": "p", "type": "quantitative", "scale": {"domain": [1.05183, 1.07818], "nice": false, "zero": false}, "axis": null}, "y2": {"field": "p2"}}},
   {"data": {"values": [{"i": 151.6, "p": 1.0625, "t": "1.0625"}]},
    "mark": {"type": "text", "font": "Liberation Sans", "fontSize": 9.5, "align": "left", "baseline": "middle", "color": "#ffffff"},
    "encoding": {"y": {"field": "p", "type": "quantitative", "scale": {"domain": [1.05183, 1.07818], "nice": false, "zero": false}, "axis": null}, "text": {"field": "t", "type": "nominal"}}}
  ]}
 ]
},
{
 "width": 605, "height": 37,
 "encoding": {"x": {"field": "i", "type": "quantitative", "scale": {"domain": [-0.5, 150.75], "nice": false, "zero": false}, "axis": null}},
 "resolve": {"axis": {"y": "independent"}},
 "layer": [
  {"data": {"values": [{"i": 114.75, "i2": 122.5, "a": 0.0132, "a2": -0.0078}]},
   "mark": {"type": "rect", "color": "#f6b4bb", "opacity": 1, "cornerRadiusTopLeft": 7, "cornerRadiusTopRight": 7},
   "encoding": {"x2": {"field": "i2"}, "y": {"field": "a", "type": "quantitative", "scale": {"domain": [-0.00715, 0.0132], "nice": false, "zero": false}, "axis": null}, "y2": {"field": "a2"}}},
  {"data": {"values": [{"i": 20.75, "i2": 25.1, "a": 0.01045, "a2": -0.00055}]},
   "mark": {"type": "rect", "color": "#ffff00"},
   "encoding": {"x2": {"field": "i2"}, "y": {"field": "a", "type": "quantitative", "scale": {"domain": [-0.00715, 0.0132], "nice": false, "zero": false}, "axis": null}, "y2": {"field": "a2"}}},
  {"data": {"name": "bars"}, "mark": {"type": "bar", "orient": "vertical", "width": 3},
   "encoding": {"y": {"field": "ao", "type": "quantitative", "scale": {"domain": [-0.00715, 0.0132], "nice": false, "zero": false},
      "axis": {"orient": "right", "values": [0.00899, 0, -0.00508], "labelExpr": "datum.value == 0 ? '0.00' : (datum.value > 0 ? '0.00899' : '-0.00508')", "labelBaseline": {"condition": {"test": "datum.value < 0", "value": "bottom"}, "value": "middle"}, "title": null, "zindex": 0}},
    "y2": {"datum": 0},
    "color": {"field": "aoc", "type": "nominal", "scale": {"domain": ["g", "o"], "range": ["#137a13", "#d4782c"]}, "legend": null}}},
  {"data": {"values": [{"i": 85, "i2": 98.25, "a": 0.01265, "a2": 0.00495}]},
   "mark": {"type": "rule", "color": "#2f4f4f", "strokeWidth": 3},
   "encoding": {"x2": {"field": "i2"}, "y": {"field": "a", "type": "quantitative", "scale": {"domain": [-0.00715, 0.0132], "nice": false, "zero": false}, "axis": null}, "y2": {"field": "a2"}}},
  {"data": {"values": [{"i": 1.25, "a": 0.00825, "t": "AO -0.00151"}]},
   "mark": {"type": "text", "font": "Liberation Sans", "fontSize": 9.5, "align": "left", "baseline": "middle", "color": "#000000"},
   "encoding": {"y": {"field": "a", "type": "quantitative", "scale": {"domain": [-0.00715, 0.0132], "nice": false, "zero": false}, "axis": null}, "text": {"field": "t", "type": "nominal"}}},
  {"data": {"values": [{"i": 23, "a": -0.0033, "t": "saucer"}]},
   "mark": {"type": "text", "font": "DejaVu Sans", "fontSize": 12, "align": "center", "baseline": "middle", "color": "#5a6e5c"},
   "encoding": {"y": {"field": "a", "type": "quantitative", "scale": {"domain": [-0.00715, 0.0132], "nice": false, "zero": false}, "axis": null}, "text": {"field": "t", "type": "nominal"}}}
 ]
},
{
 "width": 605, "height": 34,
 "encoding": {"x": {"field": "i", "type": "quantitative", "scale": {"domain": [-0.5, 150.75], "nice": false, "zero": false}, "axis": null}},
 "resolve": {"axis": {"y": "independent"}},
 "layer": [
  {"data": {"values": [{"i": 114.75, "i2": 122.5, "a": 0.0052, "a2": -0.00464}]},
   "mark": {"type": "rect", "color": "#f6b4bb", "opacity": 1, "cornerRadiusBottomLeft": 7, "cornerRadiusBottomRight": 7},
   "encoding": {"x2": {"field": "i2"}, "y": {"field": "a", "type": "quantitative", "scale": {"domain": [-0.00493, 0.00493], "nice": false, "zero": false}, "axis": null}, "y2": {"field": "a2"}}},
  {"data": {"name": "bars"}, "mark": {"type": "bar", "orient": "vertical", "width": 3},
   "encoding": {"y": {"field": "ac", "type": "quantitative", "scale": {"domain": [-0.00493, 0.00493], "nice": false, "zero": false},
      "axis": {"orient": "right", "values": [0.003209, 0, -0.002965], "labelExpr": "datum.value == 0 ? '0.00' : (datum.value > 0 ? '0.003209' : '-0.002965')", "title": null, "zindex": 0}},
    "y2": {"datum": 0},
    "color": {"field": "acc", "type": "nominal", "scale": {"domain": ["g", "r"], "range": ["#137a13", "#dc2550"]}, "legend": null}}},
  {"data": {"values": [{"i": 1.25, "a": 0.00232, "t": "AC -0.000097"}]},
   "mark": {"type": "text", "font": "Liberation Sans", "fontSize": 9.5, "align": "left", "baseline": "middle", "color": "#000000"},
   "encoding": {"y": {"field": "a", "type": "quantitative", "scale": {"domain": [-0.00493, 0.00493], "nice": false, "zero": false}, "axis": null}, "text": {"field": "t", "type": "nominal"}}}
 ]
},
{
 "width": 605, "height": 30,
 "resolve": {"axis": {"y": "independent", "x": "independent"}},
 "layer": [
  {"data": {"name": "bars"}, "transform": [{"filter": "datum.mfic != 'b'"}],
   "mark": {"type": "bar", "orient": "vertical", "width": 3},
   "encoding": {
    "x": {"field": "i", "type": "quantitative", "scale": {"domain": [-0.5, 150.75], "nice": false, "zero": false},
      "axis": {"orient": "bottom", "values": [0, 16, 32, 48, 64, 80, 96, 112], "labelExpr": "datum.value == 0 ? '29 Nov 2013' : datum.value == 16 ? '3 Dec 16:00' : datum.value == 32 ? '6 Dec 08:00' : datum.value == 48 ? '11 Dec 00:00' : datum.value == 64 ? '13 Dec 16:00' : datum.value == 80 ? '18 Dec 08:00' : datum.value == 96 ? '23 Dec 00:00' : '26 Dec 20:00'", "labelAlign": "left", "labelPadding": 2, "tickSize": 3, "title": null, "zindex": 0}},
    "y": {"field": "mfi", "type": "quantitative", "scale": {"domain": [-0.00368, 0.1067], "nice": false, "zero": false},
      "axis": {"orient": "right", "values": [0.0954, 0], "labelExpr": "datum.value == 0 ? '0' : '0.0954'", "labelBaseline": {"condition": {"test": "datum.value == 0", "value": "bottom"}, "value": "top"}, "title": null, "zindex": 0}},
    "y2": {"datum": 0},
    "color": {"field": "mfic", "type": "nominal", "scale": {"domain": ["g", "f", "r"], "range": ["#3d8f5e", "#b8902f", "#dc1e4b"]}, "legend": null}}},
  {"data": {"name": "bars"}, "transform": [{"filter": "datum.mfic == 'b'"}],
   "mark": {"type": "bar", "orient": "vertical", "width": 1.3, "color": "#151589"},
   "encoding": {
    "x": {"field": "i", "type": "quantitative", "scale": {"domain": [-0.5, 150.75], "nice": false, "zero": false}, "axis": null},
    "y": {"field": "mfi", "type": "quantitative", "scale": {"domain": [-0.00368, 0.1067], "nice": false, "zero": false}, "axis": null},
    "y2": {"datum": 0}}},
  {"data": {"values": [{"i": 1.25, "a": 0.0736, "t": "BW MFI 0.0909"}]},
   "mark": {"type": "text", "font": "Liberation Sans", "fontSize": 9.5, "align": "left", "baseline": "middle", "color": "#000000"},
   "encoding": {
    "x": {"field": "i", "type": "quantitative", "scale": {"domain": [-0.5, 150.75], "nice": false, "zero": false}, "axis": null},
    "y": {"field": "a", "type": "quantitative", "scale": {"domain": [-0.00368, 0.1067], "nice": false, "zero": false}, "axis": null},
    "text": {"field": "t", "type": "nominal"}}}
 ]
}
]
}
